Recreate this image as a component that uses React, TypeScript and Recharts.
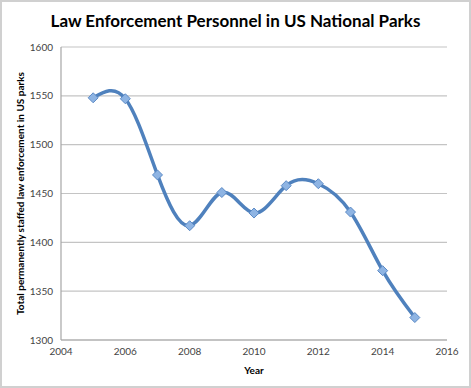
import { LineChart, Line, XAxis, YAxis, CartesianGrid } from 'recharts';

const years = [2005, 2006, 2007, 2008, 2009, 2010, 2011, 2012, 2013, 2014, 2015];
const personnel = [1548, 1547, 1469, 1417, 1451, 1430, 1458, 1460, 1431, 1371, 1323];
const xTicks = [2004, 2006, 2008, 2010, 2012, 2014, 2016];
const yTicks = [1300, 1350, 1400, 1450, 1500, 1550, 1600];

const data = years.map((year, i) => ({ year, personnel: personnel[i] }));

const FONT = 'Lato, "Open Sans", sans-serif';

function Diamond(props: any) {
  const { cx, cy } = props;
  if (cx == null || cy == null) return null;
  const r = 5;
  return (
    <polygon
      points={`${cx},${cy - r} ${cx + r},${cy} ${cx},${cy + r} ${cx - r},${cy}`}
      fill="#8eb4e3"
      stroke="#5b8ac6"
      strokeWidth={1}
    />
  );
}

export default function App() {
  return (
    <div
      style={{
        position: 'fixed',
        top: 0,
        left: 0,
        width: 471,
        height: 388,
        background: '#fff',
        fontFamily: FONT,
      }}
    >
      <div
        style={{
          position: 'absolute',
          inset: 0,
          border: '2px solid #d0d0d0',
          boxSizing: 'border-box',
          pointerEvents: 'none',
        }}
      />
      <div
        style={{
          position: 'absolute',
          top: 10,
          left: 0,
          width: 471,
          textAlign: 'center',
          fontWeight: 700,
          fontSize: 17,
          color: '#000',
        }}
      >
        Law Enforcement Personnel in US National Parks
      </div>
      <LineChart
        width={471}
        height={388}
        data={data}
        margin={{ top: 47, right: 24, left: 0, bottom: 0 }}
      >
        <CartesianGrid vertical={false} stroke="#c4c4c4" strokeWidth={1.2} />
        <XAxis
          dataKey="year"
          type="number"
          domain={[2004, 2016]}
          ticks={xTicks}
          height={48}
          tickSize={0}
          tickMargin={8}
          axisLine={{ stroke: '#a6a6a6', strokeWidth: 1.2 }}
          tick={{ fill: '#444', fontSize: 10, fontFamily: FONT }}
          label={{
            value: 'Year',
            position: 'insideBottom',
            offset: 14,
            style: { fontWeight: 700, fontSize: 10, fill: '#000', fontFamily: FONT },
          }}
        />
        <YAxis
          type="number"
          domain={[1300, 1600]}
          ticks={yTicks}
          width={61}
          tickSize={0}
          tickMargin={8}
          axisLine={{ stroke: '#a6a6a6', strokeWidth: 1.2 }}
          tick={{ fill: '#444', fontSize: 10, fontFamily: FONT }}
          label={{
            value: 'Total permanently staffed law enforcement in US parks',
            angle: -90,
            position: 'insideLeft',
            offset: 20,
            style: {
              textAnchor: 'middle',
              fontWeight: 700,
              fontSize: 10,
              fill: '#000',
              fontFamily: FONT,
            },
          }}
        />
        <Line
          type="natural"
          dataKey="personnel"
          stroke="#4f81bd"
          strokeWidth={3.5}
          dot={<Diamond />}
          activeDot={false}
          isAnimationActive={false}
        />
      </LineChart>
    </div>
  );
}
